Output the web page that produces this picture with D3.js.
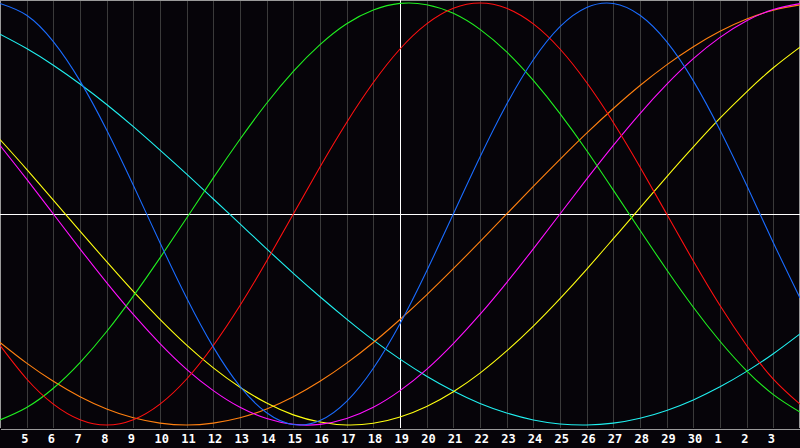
<!DOCTYPE html>
<html>
<head>
<meta charset="utf-8">
<script src="https://cdn.jsdelivr.net/npm/d3@7"></script>
<style>
  html, body { margin: 0; padding: 0; background: #060409; }
  #chart { width: 800px; height: 448px; }
  .day-axis text { font-family: "DejaVu Sans Mono", monospace; font-weight: bold; font-size: 12px; fill: #fff; }
</style>
</head>
<body>
<div id="chart"></div>
<script>
window.addEventListener("DOMContentLoaded", function () {

    // day labels, from the 4th to the 4th of next month
    const days = [4, 5, 6, 7, 8, 9, 10, 11, 12, 13, 14, 15, 16, 17, 18, 19,
        20, 21, 22, 23, 24, 25, 26, 27, 28, 29, 30, 1, 2, 3, 4];
    const todayIndex = 15; // day 19

    // values, one per day, -100..100
    const physical = [99.8, 94.2, 81.7, 63.1, 39.8, 13.6, -13.6, -39.8, -63.1, -81.7, -94.2, -99.8,
        -97.9, -88.8, -73.1, -52.0, -27.0, 0, 27.0, 52.0, 73.1, 88.8, 97.9, 99.8, 94.2, 81.7,
        63.1, 39.8, 13.6, -13.6, -39.8];
    const emotional = [-62.3, -78.2, -90.1, -97.5, -100, -97.5, -90.1, -78.2, -62.3, -43.4, -22.3, 0,
        22.3, 43.4, 62.3, 78.2, 90.1, 97.5, 100, 97.5, 90.1, 78.2, 62.3, 43.4, 22.3, 0,
        -22.3, -43.4, -62.3, -78.2, -90.1];
    const intellectual = [-97.6, -91.7, -82.6, -70.4, -55.7, -38.9, -20.8, -1.9, 17.1, 35.4, 52.5, 67.6,
        80.3, 90.2, 96.7, 99.8, 99.2, 95.1, 87.5, 76.8, 63.3, 47.6, 30.1, 11.3, -7.7, -26.4,
        -44.2, -60.3, -74.3, -85.6, -93.9];
    const intuitive = [32.5, 16.5, 0, -16.5, -32.5, -47.6, -61.4, -73.6, -83.7, -91.6, -96.9, -99.7,
        -99.7, -96.9, -91.6, -83.7, -73.6, -61.4, -47.6, -32.5, -16.5, 0, 16.5, 32.5, 47.6, 61.4,
        73.6, 83.7, 91.6, 96.9, 99.7];
    const aesthetic = [35.3, 21.2, 6.6, -8.1, -22.6, -36.7, -49.9, -62.1, -72.9, -82.1, -89.6, -95.2,
        -98.6, -100, -99.2, -96.2, -91.2, -84.2, -75.4, -64.9, -53.1, -40.1, -26.2, -11.7, 2.9, 17.6,
        31.8, 45.4, 57.9, 69.3, 79.1];
    const awareness = [-60.9, -70.7, -79.3, -86.6, -92.4, -96.6, -99.1, -100, -99.1, -96.6, -92.4, -86.6,
        -79.3, -70.7, -60.9, -50.0, -38.3, -25.9, -13.1, 0, 13.1, 25.9, 38.3, 50.0, 60.9, 70.7,
        79.3, 86.6, 92.4, 96.6, 99.1];
    const spiritual = [85.2, 78.4, 70.5, 61.6, 51.9, 41.4, 30.3, 18.9, 7.1, -4.7, -16.5, -28.1,
        -39.2, -49.8, -59.8, -68.8, -76.9, -83.9, -89.8, -94.3, -97.6, -99.5, -100, -99.1, -96.8, -93.1,
        -88.1, -81.9, -74.6, -66.2, -56.8];

    const series = [
        { name: "spiritual", values: spiritual, color: "#20f0f0" },
        { name: "awareness", values: awareness, color: "#ff8010" },
        { name: "aesthetic", values: aesthetic, color: "#ffff10" },
        { name: "intuitive", values: intuitive, color: "#ff10ff" },
        { name: "intellectual", values: intellectual, color: "#20f020" },
        { name: "emotional", values: emotional, color: "#ff1010" },
        { name: "physical", values: physical, color: "#1a6cff" }
    ];

    const w = 800,
        h = 448,
        plotBottom = 428;

    const svg = d3.select("#chart")
        .append("svg")
        .attr("width", w)
        .attr("height", h)
        .style("display", "block");

    svg.append("rect")
        .attr("width", w)
        .attr("height", h)
        .attr("fill", "#060409");

    const xScale = d3.scaleLinear()
        .domain([0, days.length - 1])
        .range([0, w]);

    const yScale = d3.scaleLinear()
        .domain([-100, 100])
        .range([425, 3]);

    // vertical day grid
    svg.append("g")
        .attr("class", "grid")
        .attr("transform", "translate(0, " + plotBottom + ")")
        .call(d3.axisBottom(xScale).tickValues(d3.range(1, days.length - 1)).tickSize(-plotBottom).tickFormat(""))
        .call(g => g.select(".domain").remove())
        .call(g => g.selectAll("line").attr("stroke", "#3a3a3a").attr("shape-rendering", "crispEdges"));

    // frame
    svg.append("path")
        .attr("d", "M0.5," + plotBottom + "V0.5H799.5V" + plotBottom)
        .attr("fill", "none")
        .attr("stroke", "#9a9a9a")
        .attr("shape-rendering", "crispEdges");

    // day labels + bottom line
    svg.append("g")
        .attr("class", "day-axis")
        .attr("transform", "translate(0, " + (plotBottom + 0.5) + ")")
        .call(d3.axisBottom(xScale).tickValues(d3.range(1, days.length - 1)).tickSize(0).tickPadding(4)
            .tickFormat(i => days[i]))
        .call(g => g.select(".domain").attr("stroke", "#9a9a9a").attr("shape-rendering", "crispEdges"))
        .call(g => g.selectAll("text").attr("text-anchor", "start").attr("dx", -6).attr("dy", "0.85em"));

    // zero line and today line
    svg.append("line")
        .attr("x1", 0).attr("x2", w)
        .attr("y1", Math.round(yScale(0)) + 0.5).attr("y2", Math.round(yScale(0)) + 0.5)
        .attr("stroke", "#fff")
        .attr("shape-rendering", "crispEdges");

    svg.append("line")
        .attr("x1", Math.round(xScale(todayIndex)) + 0.5).attr("x2", Math.round(xScale(todayIndex)) + 0.5)
        .attr("y1", 0).attr("y2", plotBottom)
        .attr("stroke", "#fff")
        .attr("shape-rendering", "crispEdges");

    const line = d3.line()
        .x((d, i) => xScale(i))
        .y(d => yScale(d))
        .curve(d3.curveNatural);

    svg.selectAll("path.cycle")
        .data(series)
        .enter()
        .append("path")
        .attr("class", "cycle")
        .attr("d", d => line(d.values))
        .attr("fill", "none")
        .attr("stroke", d => d.color)
        .attr("stroke-width", 1.1);

});
</script>
</body>
</html>
